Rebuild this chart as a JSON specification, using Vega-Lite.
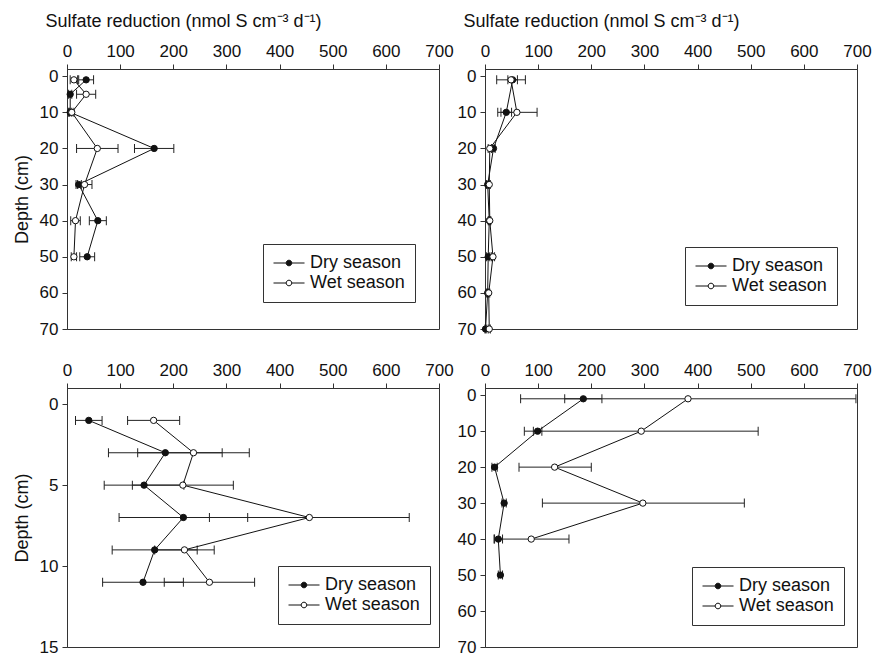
{
  "$schema": "https://vega.github.io/schema/vega-lite/v6.json",
  "padding": {"left": 12, "top": 11, "right": 5, "bottom": 2},
  "background": "white",
  "bounds": "flush",
  "columns": 2,
  "spacing": {"row": 59, "column": 46},
  "resolve": {"scale": {"fill": "independent"}, "legend": {"fill": "independent"}},
  "datasets": {
    "hba": [
      {"depth": 1, "season": "Dry season", "v": 36, "lo": 22, "hi": 50},
      {"depth": 5, "season": "Dry season", "v": 6, "lo": 3, "hi": 9},
      {"depth": 10, "season": "Dry season", "v": 6, "lo": 3, "hi": 9},
      {"depth": 20, "season": "Dry season", "v": 164, "lo": 127, "hi": 201},
      {"depth": 30, "season": "Dry season", "v": 22, "lo": 17, "hi": 27},
      {"depth": 40, "season": "Dry season", "v": 58, "lo": 42, "hi": 74},
      {"depth": 50, "season": "Dry season", "v": 38, "lo": 24, "hi": 52},
      {"depth": 1, "season": "Wet season", "v": 13, "lo": 6, "hi": 20},
      {"depth": 5, "season": "Wet season", "v": 36, "lo": 18, "hi": 54},
      {"depth": 10, "season": "Wet season", "v": 9, "lo": 5, "hi": 13},
      {"depth": 20, "season": "Wet season", "v": 57, "lo": 18, "hi": 96},
      {"depth": 30, "season": "Wet season", "v": 33, "lo": 20, "hi": 47},
      {"depth": 40, "season": "Wet season", "v": 16, "lo": 7, "hi": 25},
      {"depth": 50, "season": "Wet season", "v": 13, "lo": 8, "hi": 18}
    ],
    "hbr": [
      {"depth": 1, "season": "Dry season", "v": 52, "lo": 43, "hi": 61},
      {"depth": 10, "season": "Dry season", "v": 40, "lo": 30, "hi": 50},
      {"depth": 20, "season": "Dry season", "v": 16, "lo": 13, "hi": 19},
      {"depth": 30, "season": "Dry season", "v": 5, "lo": 3, "hi": 7},
      {"depth": 40, "season": "Dry season", "v": 8, "lo": 6, "hi": 10},
      {"depth": 50, "season": "Dry season", "v": 6, "lo": 3, "hi": 9},
      {"depth": 60, "season": "Dry season", "v": 5, "lo": 3, "hi": 7},
      {"depth": 70, "season": "Dry season", "v": 1, "lo": 0, "hi": 2},
      {"depth": 1, "season": "Wet season", "v": 49, "lo": 22, "hi": 76},
      {"depth": 10, "season": "Wet season", "v": 60, "lo": 24, "hi": 98},
      {"depth": 20, "season": "Wet season", "v": 9, "lo": 6, "hi": 12},
      {"depth": 30, "season": "Wet season", "v": 8, "lo": 6, "hi": 10},
      {"depth": 40, "season": "Wet season", "v": 9, "lo": 7, "hi": 11},
      {"depth": 50, "season": "Wet season", "v": 15, "lo": 12, "hi": 18},
      {"depth": 60, "season": "Wet season", "v": 7, "lo": 5, "hi": 9},
      {"depth": 70, "season": "Wet season", "v": 8, "lo": 6, "hi": 10}
    ],
    "hbs": [
      {"depth": 1, "season": "Dry season", "v": 41, "lo": 16, "hi": 66},
      {"depth": 3, "season": "Dry season", "v": 185, "lo": 78, "hi": 292},
      {"depth": 5, "season": "Dry season", "v": 145, "lo": 70, "hi": 220},
      {"depth": 7, "season": "Dry season", "v": 219, "lo": 98, "hi": 340},
      {"depth": 9, "season": "Dry season", "v": 165, "lo": 85, "hi": 245},
      {"depth": 11, "season": "Dry season", "v": 143, "lo": 67, "hi": 219},
      {"depth": 1, "season": "Wet season", "v": 163, "lo": 114, "hi": 212},
      {"depth": 3, "season": "Wet season", "v": 238, "lo": 133, "hi": 343},
      {"depth": 5, "season": "Wet season", "v": 218, "lo": 123, "hi": 313},
      {"depth": 7, "season": "Wet season", "v": 456, "lo": 268, "hi": 644},
      {"depth": 9, "season": "Wet season", "v": 221, "lo": 165, "hi": 277},
      {"depth": 11, "season": "Wet season", "v": 268, "lo": 183, "hi": 353}
    ],
    "awm": [
      {"depth": 1, "season": "Dry season", "v": 185, "lo": 150, "hi": 220},
      {"depth": 10, "season": "Dry season", "v": 99, "lo": 91, "hi": 107},
      {"depth": 20, "season": "Dry season", "v": 18, "lo": 13, "hi": 23},
      {"depth": 30, "season": "Dry season", "v": 36, "lo": 32, "hi": 40},
      {"depth": 40, "season": "Dry season", "v": 25, "lo": 17, "hi": 33},
      {"depth": 50, "season": "Dry season", "v": 29, "lo": 25, "hi": 33},
      {"depth": 1, "season": "Wet season", "v": 382, "lo": 67, "hi": 698},
      {"depth": 10, "season": "Wet season", "v": 294, "lo": 74, "hi": 514},
      {"depth": 20, "season": "Wet season", "v": 131, "lo": 64, "hi": 200},
      {"depth": 30, "season": "Wet season", "v": 297, "lo": 108, "hi": 488},
      {"depth": 40, "season": "Wet season", "v": 87, "lo": 18, "hi": 158}
    ]
  },
  "concat": [
    {
      "width": 372, "height": 260,
      "data": {"name": "hba"},
      "encoding": {
        "x": {"field": "v", "type": "quantitative", "scale": {"domain": [0, 700], "nice": false, "zero": false},
              "axis": {"orient": "top", "values": [0,100,200,300,400,500,600,700], "title": "Sulfate reduction (nmol S cm⁻³ d⁻¹)", "titleX": 116, "titleY": -48, "titleAlign": "center", "titleBaseline": "middle"}},
        "y": {"field": "depth", "type": "quantitative", "scale": {"domain": [-2, 70], "nice": false, "zero": false, "reverse": true},
              "axis": {"values": [0,10,20,30,40,50,60,70], "title": "Depth (cm)"}}
      },
      "layer": [
        {"mark": {"type": "rule", "color": "#222", "strokeWidth": 1}, "encoding": {"x": {"field": "lo", "type": "quantitative"}, "x2": {"field": "hi"}}},
        {"mark": {"type": "tick", "orient": "vertical", "color": "#222", "size": 9, "thickness": 1, "opacity": 1}, "encoding": {"x": {"field": "lo", "type": "quantitative"}}},
        {"mark": {"type": "tick", "orient": "vertical", "color": "#222", "size": 9, "thickness": 1, "opacity": 1}, "encoding": {"x": {"field": "hi", "type": "quantitative"}}},
        {"mark": {"type": "line", "color": "#111", "strokeWidth": 1}, "encoding": {"detail": {"field": "season"}, "order": {"field": "depth", "type": "quantitative"}}},
        {"mark": {"type": "point", "filled": true, "stroke": "#111", "strokeWidth": 1, "opacity": 1, "size": 40},
         "encoding": {"fill": {"field": "season", "type": "nominal", "scale": {"domain": ["Dry season", "Wet season"], "range": ["#111", "white"]},
           "legend": {"orient": "none", "legendX": 196, "legendY": 175, "title": null}}}},
        {"data": {"values": [{"label": "Stn HBA"}]}, "mark": {"type": "text", "align": "right", "baseline": "middle", "fontSize": 20, "font": "Liberation Sans", "color": "#111"},
         "encoding": {"x": {"datum": 653}, "y": {"datum": 42.7}, "text": {"field": "label"}}}
      ]
    },
    {
      "width": 372, "height": 260,
      "data": {"name": "hbr"},
      "encoding": {
        "x": {"field": "v", "type": "quantitative", "scale": {"domain": [0, 700], "nice": false, "zero": false},
              "axis": {"orient": "top", "values": [0,100,200,300,400,500,600,700], "title": "Sulfate reduction (nmol S cm⁻³ d⁻¹)", "titleX": 116, "titleY": -48, "titleAlign": "center", "titleBaseline": "middle"}},
        "y": {"field": "depth", "type": "quantitative", "scale": {"domain": [-2, 70], "nice": false, "zero": false, "reverse": true},
              "axis": {"values": [0,10,20,30,40,50,60,70], "title": null}}
      },
      "layer": [
        {"mark": {"type": "rule", "color": "#222", "strokeWidth": 1}, "encoding": {"x": {"field": "lo", "type": "quantitative"}, "x2": {"field": "hi"}}},
        {"mark": {"type": "tick", "orient": "vertical", "color": "#222", "size": 9, "thickness": 1, "opacity": 1}, "encoding": {"x": {"field": "lo", "type": "quantitative"}}},
        {"mark": {"type": "tick", "orient": "vertical", "color": "#222", "size": 9, "thickness": 1, "opacity": 1}, "encoding": {"x": {"field": "hi", "type": "quantitative"}}},
        {"mark": {"type": "line", "color": "#111", "strokeWidth": 1}, "encoding": {"detail": {"field": "season"}, "order": {"field": "depth", "type": "quantitative"}}},
        {"mark": {"type": "point", "filled": true, "stroke": "#111", "strokeWidth": 1, "opacity": 1, "size": 40},
         "encoding": {"fill": {"field": "season", "type": "nominal", "scale": {"domain": ["Dry season", "Wet season"], "range": ["#111", "white"]},
           "legend": {"orient": "none", "legendX": 200, "legendY": 178, "title": null}}}},
        {"data": {"values": [{"label": "Stn HBR"}]}, "mark": {"type": "text", "align": "right", "baseline": "middle", "fontSize": 20, "font": "Liberation Sans", "color": "#111"},
         "encoding": {"x": {"datum": 655}, "y": {"datum": 43.2}, "text": {"field": "label"}}}
      ]
    },
    {
      "width": 372, "height": 259,
      "data": {"name": "hbs"},
      "encoding": {
        "x": {"field": "v", "type": "quantitative", "scale": {"domain": [0, 700], "nice": false, "zero": false},
              "axis": {"orient": "top", "values": [0,100,200,300,400,500,600,700], "title": null}},
        "y": {"field": "depth", "type": "quantitative", "scale": {"domain": [-1, 15], "nice": false, "zero": false, "reverse": true},
              "axis": {"values": [0,5,10,15], "title": "Depth (cm)"}}
      },
      "layer": [
        {"mark": {"type": "rule", "color": "#222", "strokeWidth": 1}, "encoding": {"x": {"field": "lo", "type": "quantitative"}, "x2": {"field": "hi"}}},
        {"mark": {"type": "tick", "orient": "vertical", "color": "#222", "size": 9, "thickness": 1, "opacity": 1}, "encoding": {"x": {"field": "lo", "type": "quantitative"}}},
        {"mark": {"type": "tick", "orient": "vertical", "color": "#222", "size": 9, "thickness": 1, "opacity": 1}, "encoding": {"x": {"field": "hi", "type": "quantitative"}}},
        {"mark": {"type": "line", "color": "#111", "strokeWidth": 1}, "encoding": {"detail": {"field": "season"}, "order": {"field": "depth", "type": "quantitative"}}},
        {"mark": {"type": "point", "filled": true, "stroke": "#111", "strokeWidth": 1, "opacity": 1, "size": 40},
         "encoding": {"fill": {"field": "season", "type": "nominal", "scale": {"domain": ["Dry season", "Wet season"], "range": ["#111", "white"]},
           "legend": {"orient": "none", "legendX": 211, "legendY": 178, "title": null}}}},
        {"data": {"values": [{"label": "Stn HBS"}]}, "mark": {"type": "text", "align": "right", "baseline": "middle", "fontSize": 20, "font": "Liberation Sans", "color": "#111"},
         "encoding": {"x": {"datum": 681}, "y": {"datum": 9.28}, "text": {"field": "label"}}}
      ]
    },
    {
      "width": 372, "height": 259,
      "data": {"name": "awm"},
      "encoding": {
        "x": {"field": "v", "type": "quantitative", "scale": {"domain": [0, 700], "nice": false, "zero": false},
              "axis": {"orient": "top", "values": [0,100,200,300,400,500,600,700], "title": null}},
        "y": {"field": "depth", "type": "quantitative", "scale": {"domain": [-2, 70], "nice": false, "zero": false, "reverse": true},
              "axis": {"values": [0,10,20,30,40,50,60,70], "title": null}}
      },
      "layer": [
        {"mark": {"type": "rule", "color": "#222", "strokeWidth": 1}, "encoding": {"x": {"field": "lo", "type": "quantitative"}, "x2": {"field": "hi"}}},
        {"mark": {"type": "tick", "orient": "vertical", "color": "#222", "size": 9, "thickness": 1, "opacity": 1}, "encoding": {"x": {"field": "lo", "type": "quantitative"}}},
        {"mark": {"type": "tick", "orient": "vertical", "color": "#222", "size": 9, "thickness": 1, "opacity": 1}, "encoding": {"x": {"field": "hi", "type": "quantitative"}}},
        {"mark": {"type": "line", "color": "#111", "strokeWidth": 1}, "encoding": {"detail": {"field": "season"}, "order": {"field": "depth", "type": "quantitative"}}},
        {"mark": {"type": "point", "filled": true, "stroke": "#111", "strokeWidth": 1, "opacity": 1, "size": 40},
         "encoding": {"fill": {"field": "season", "type": "nominal", "scale": {"domain": ["Dry season", "Wet season"], "range": ["#111", "white"]},
           "legend": {"orient": "none", "legendX": 207, "legendY": 179, "title": null}}}},
        {"data": {"values": [{"label": "Stn AWM"}]}, "mark": {"type": "text", "align": "right", "baseline": "middle", "fontSize": 20, "font": "Liberation Sans", "color": "#111"},
         "encoding": {"x": {"datum": 674}, "y": {"datum": 44}, "text": {"field": "label"}}}
      ]
    }
  ],
  "config": {
    "font": "Liberation Sans",
    "view": {"stroke": "#333", "strokeWidth": 1},
    "axis": {"grid": false, "labelFont": "Liberation Sans", "labelFontSize": 17, "labelColor": "#111", "titleFont": "Liberation Sans", "titleFontSize": 18, "titleFontWeight": "normal", "titleColor": "#111", "domainColor": "#333", "tickColor": "#333", "tickSize": 5, "labelPadding": 4, "titlePadding": 8, "labelFlush": false, "labelOverlap": false},
    "legend": {"strokeColor": "#333", "fillColor": "white", "padding": 10, "cornerRadius": 0,
               "symbolType": "M-1,0L0.49,0M1.15,0L2.65,0M1.15,0A0.33,0.33,0,1,1,0.49,0A0.33,0.33,0,1,1,1.15,0Z",
               "symbolSize": 289, "symbolStrokeColor": "#111", "symbolStrokeWidth": 1, "symbolOpacity": 1,
               "labelFont": "Liberation Sans", "labelFontSize": 18, "labelColor": "#111", "labelOffset": 19, "rowPadding": 2}
  }
}
